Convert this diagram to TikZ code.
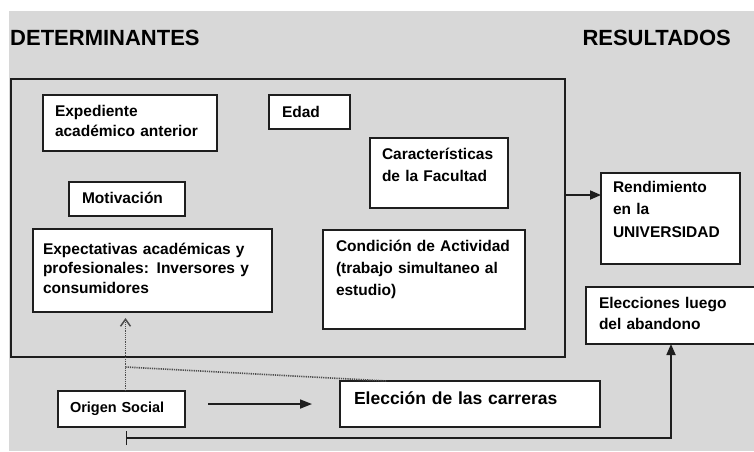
\documentclass[tikz,border=0pt]{standalone}
\usepackage{fontspec}
\setmainfont{Liberation Sans}
\usetikzlibrary{arrows.meta}
\definecolor{fondo}{RGB}{216,216,216}
\definecolor{linea}{RGB}{30,30,30}
\begin{document}
\begin{tikzpicture}[x=1pt,y=-1pt,
  caja/.style={draw=linea,fill=white,line width=1.7pt,anchor=north west,align=left,outer sep=0pt,inner ysep=0pt},
  texto/.style={font=\fontsize{15.5}{#1}\selectfont\bfseries},texto/.default=21,
  titulo/.style={inner sep=0pt,font=\fontsize{22}{26}\selectfont\bfseries},
  flecha/.style={draw=linea,line width=1.7pt},
  punteado/.style={draw=black!70,line width=1.6pt,dash pattern=on 1.2pt off 1pt}]
\useasboundingbox (0,0) rectangle (754,451);
\fill[white] (0,0) rectangle (754,451);
\fill[fondo] (9,11) rectangle (754,451);
\node[titulo,anchor=base west] (tdet) at (10,45) {DETERMINANTES};
\node[titulo,anchor=base east] (tres) at (731,45) {RESULTADOS};
\node[draw=linea,line width=1.7pt,anchor=north west,outer sep=0pt,inner sep=0pt,minimum width=554pt,minimum height=278pt] (det) at (11,79) {};
\node[caja,texto=20,inner xsep=12pt,text width=150pt,text height=21pt,text depth=35pt] (exped) at (43,95) {Expediente\\académico anterior};
\node[caja,texto,inner xsep=13pt,text width=55pt,text height=22pt,text depth=12pt] (edad) at (269,95) {Edad};
\node[caja,texto=22,inner xsep=12pt,text width=114pt,text height=21pt,text depth=49pt] (caract) at (370,138) {Características\\de la Facultad};
\node[caja,texto,inner xsep=13pt,text width=90pt,text height=21pt,text depth=13pt] (motiv) at (69,182) {Motivación};
\node[caja,texto=19.5,inner xsep=10pt,text width=219pt,text height=25pt,text depth=58pt] (expect) at (33,229)
  {\makebox[213pt][s]{Expectativas académicas y}\\\makebox[213pt][s]{profesionales: Inversores y}\\consumidores};
\node[caja,texto=22,inner xsep=13pt,text width=176pt,text height=21pt,text depth=78pt] (cond) at (323,230)
  {\makebox[175pt][s]{Condición de Actividad}\\\makebox[175pt][s]{(trabajo simultaneo al}\\estudio)};
\node[caja,texto=22.5,inner xsep=12pt,text width=115pt,text height=19pt,text depth=72pt] (rend) at (601,173) {Rendimiento\\en la\\UNIVERSIDAD};
\node[caja,texto,inner xsep=13pt,text width=144pt,text height=21pt,text depth=36pt] (elecc) at (586,287) {Elecciones luego\\del abandono};
\node[caja,font=\fontsize{14.5}{18}\selectfont\bfseries,inner xsep=12pt,text width=103pt,text height=21pt,text depth=15pt] (origen) at (58,391) {Origen Social};
\node[caja,font=\fontsize{17.5}{21}\selectfont\bfseries,inner xsep=14pt,text width=232pt,text height=23pt,text depth=23pt] (eleccion) at (340,381) {Elección de las carreras};
\coordinate (entrada) at ([yshift=-22pt]rend.north west);
\draw[flecha,-{Triangle[length=11pt,width=9pt]}] (det.east |- entrada) -- (entrada);
\draw[flecha,-{Triangle[length=12pt,width=9pt]},shorten <=23pt,shorten >=28pt] (origen.east |- eleccion.west) -- (eleccion.west);
\coordinate (sube) at ([xshift=4pt]origen.north);
\coordinate (ramal) at ([yshift=24pt]sube);
\draw[punteado,-{Straight Barb[length=7pt,width=10pt,line width=1.5pt]},shorten >=6pt] (sube) -- (sube |- expect.south);
\draw[punteado] (ramal) -- ([xshift=47pt]eleccion.north west);
\coordinate (base) at ([xshift=4pt,yshift=-11pt]origen.south);
\draw[flecha,{Bar[width=14pt]}-{Triangle[length=11pt,width=9pt]}] (base) -| (elecc.south);
\end{tikzpicture}
\end{document}
